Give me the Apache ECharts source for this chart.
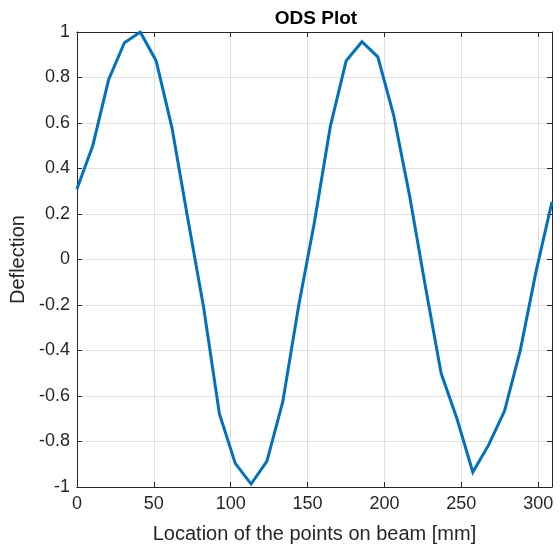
<!DOCTYPE html>
<html>
<head>
<meta charset="utf-8">
<script src="https://cdn.jsdelivr.net/npm/echarts@6/dist/echarts.min.js"></script>
<style>html,body{margin:0;padding:0;background:#fff}#c{width:560px;height:552px}</style>
</head>
<body>
<div id="c"></div>
<script>
var titleText = 'ODS Plot';
var xLabel = 'Location of the points on beam [mm]';
var yLabel = 'Deflection';
var xPositions = [0, 10.3, 20.6, 30.9, 41.2, 51.5, 61.8, 72.1, 82.4, 92.7, 103, 113.3, 123.6, 133.9, 144.2, 154.5, 164.8, 175.1, 185.4, 195.7, 206, 216.3, 226.6, 236.9, 247.2, 257.5, 267.8, 278.1, 288.4, 298.7, 309];
var deflection = [0.31, 0.50, 0.79, 0.953, 1.0, 0.874, 0.58, 0.18, -0.21, -0.679, -0.896, -0.987, -0.886, -0.625, -0.204, 0.165, 0.584, 0.873, 0.957, 0.891, 0.635, 0.283, -0.117, -0.50, -0.70, -0.935, -0.815, -0.666, -0.398, -0.05, 0.254];
var xMin = 0, xMax = 309, xStep = 50;
var yMin = -1, yMax = 1, yStep = 0.2;

var axisColor = '#262626';
var font = '"Liberation Sans", Arial, Helvetica, sans-serif';
var data = xPositions.map(function (x, i) { return [x, deflection[i]]; });

function xAx(pos, showLabels) {
  return {
    type: 'value', position: pos, min: xMin, max: xMax, interval: xStep,
    axisLine: { show: true, onZero: false, lineStyle: { color: axisColor, width: 1 } },
    axisTick: { show: true, inside: true, length: 5, lineStyle: { color: axisColor } },
    axisLabel: { show: showLabels, color: axisColor, fontSize: 18, fontFamily: font, margin: 8, showMaxLabel: false },
    splitLine: { show: showLabels, lineStyle: { color: '#e0e0e0', width: 1 } },
    name: showLabels ? xLabel : '', nameLocation: 'middle', nameGap: 37,
    nameTextStyle: { color: axisColor, fontSize: 20, fontFamily: font }
  };
}
function yAx(pos, showLabels) {
  return {
    type: 'value', position: pos, min: yMin, max: yMax, interval: yStep,
    axisLine: { show: true, onZero: false, lineStyle: { color: axisColor, width: 1 } },
    axisTick: { show: true, inside: true, length: 5, lineStyle: { color: axisColor } },
    axisLabel: { show: showLabels, color: axisColor, fontSize: 18, fontFamily: font, margin: 7 },
    splitLine: { show: showLabels, lineStyle: { color: '#e0e0e0', width: 1 } },
    name: showLabels ? yLabel : '', nameLocation: 'middle', nameGap: 46, nameRotate: 90,
    nameTextStyle: { color: axisColor, fontSize: 20, fontFamily: font }
  };
}

var chart = echarts.init(document.getElementById('c'), null, { renderer: 'canvas' });
chart.setOption({
  animation: false,
  backgroundColor: '#ffffff',
  title: {
    text: titleText, left: 311, top: 4, textAlign: 'center',
    textStyle: { color: '#000', fontSize: 19, fontWeight: 'bold', fontFamily: font }
  },
  grid: { left: 75, right: 8, top: 32, bottom: 65, containLabel: false },
  xAxis: [xAx('bottom', true), xAx('top', false)],
  yAxis: [yAx('left', true), yAx('right', false)],
  series: [{
    type: 'line', data: data, xAxisIndex: 0, yAxisIndex: 0,
    showSymbol: false, symbol: 'none',
    lineStyle: { color: '#0072BD', width: 3, join: 'miter' }
  }]
});
</script>
</body>
</html>
